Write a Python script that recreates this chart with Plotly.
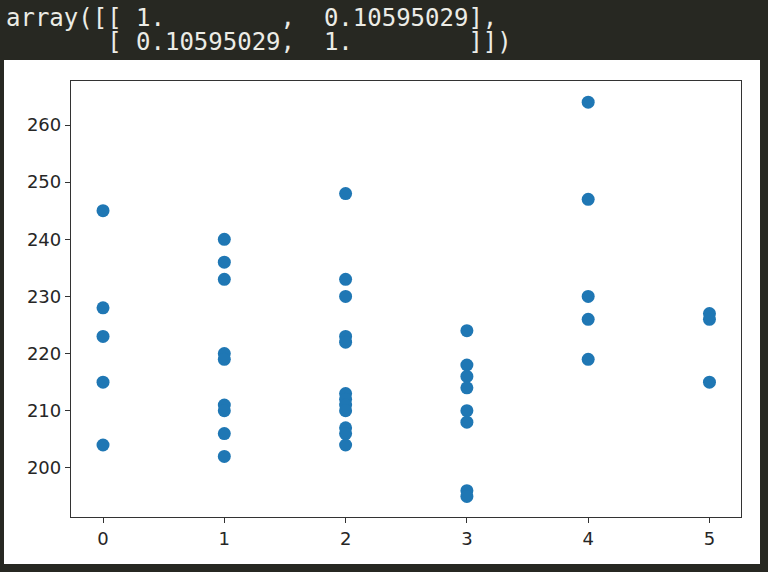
import plotly.graph_objects as go

# matrix printed above the chart (np.corrcoef output)
array_lines = [
    "array([[ 1.        ,  0.10595029],",
    "       [ 0.10595029,  1.        ]])",
]

# scatter values, grouped by x position
x_positions = [0, 1, 2, 3, 4, 5]
group_values = [
    [245, 228, 223, 215, 204],
    [240, 236, 233, 220, 219, 211, 210, 206, 202],
    [248, 233, 230, 223, 222, 213, 212, 211, 210, 207, 206, 204],
    [224, 218, 216, 214, 210, 208, 196, 195],
    [264, 247, 230, 226, 219],
    [227, 226, 215],
]
y_ticks = [200, 210, 220, 230, 240, 250, 260]

xs, ys = [], []
for xv, vals in zip(x_positions, group_values):
    xs += [xv] * len(vals)
    ys += vals

W, H = 768, 572
L, R, T, B = 71, 741, 81, 517  # plot frame in pixels


def px_x(p):
    return (p - L) / (R - L)


def px_y(p):
    return (B - p) / (B - T)


fig = go.Figure(go.Scatter(
    x=xs, y=ys, mode="markers",
    marker=dict(size=13, color="#1f77b4", line=dict(width=0)),
))

axis_common = dict(
    showgrid=False, zeroline=False, showline=True, mirror=True,
    linecolor="#333333", linewidth=1.3,
    ticks="outside", ticklen=5, tickwidth=1.3, tickcolor="#333333",
    tickfont=dict(family="DejaVu Sans", size=18, color="#262626"),
)

fig.update_xaxes(range=[-0.264, 5.26], tickvals=x_positions, **axis_common)
fig.update_yaxes(range=[191.4, 267.7], tickvals=y_ticks, **axis_common)

# white output cell behind the plot
fig.add_shape(
    type="rect", xref="paper", yref="paper", layer="below",
    x0=px_x(4), x1=px_x(760), y0=px_y(564), y1=px_y(60),
    fillcolor="white", line=dict(width=0),
)

for line, py in zip(array_lines, [18, 42]):
    fig.add_annotation(
        text=line.replace(" ", "&nbsp;"), xref="paper", yref="paper",
        x=px_x(5), y=px_y(py), xanchor="left", yanchor="middle",
        showarrow=False, borderpad=0,
        font=dict(family="DejaVu Sans Mono", size=24, color="#ececE6"),
    )

fig.update_layout(
    width=W, height=H,
    margin=dict(l=L, r=W - R, t=T, b=H - B),
    paper_bgcolor="#272822", plot_bgcolor="white",
    showlegend=False,
)

# drop the default page margin so the figure sits at the window corner
fig.write_html(
    "out.html",
    config={"displayModeBar": False},
    post_script=["document.body.style.margin='0';"
                 "document.body.style.background='#272822';"],
)
